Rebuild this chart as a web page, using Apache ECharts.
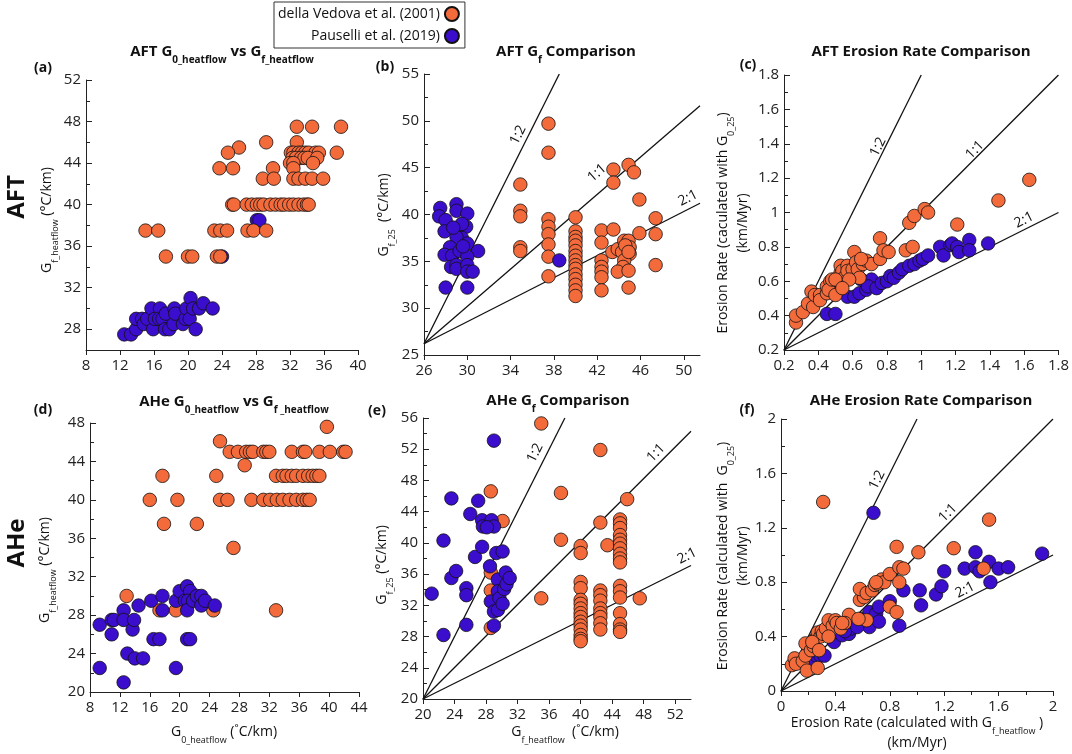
<!DOCTYPE html>
<html>
<head>
<meta charset="utf-8">
<script src="https://cdn.jsdelivr.net/npm/echarts@6/dist/echarts.min.js"></script>
<style>
  html, body { margin: 0; background: #fff; }
  #chart { width: 1072px; height: 754px; }
</style>
</head>
<body>
<div id="chart"></div>
<script>
const ORANGE = '#F36A3B'
const BLUE = '#3B0DCC'
const FONT = 'Open Sans'
const NAME_DV = 'della Vedova et al. (2001)'
const NAME_PA = 'Pauselli et al. (2019)'

// (a) AFT G0_heatflow vs Gf_heatflow
const aftHeatDV = [
  [32.8, 47.5], [34.6, 47.5], [38.0, 47.5], [29.2, 46], [32.8, 46], [26.0, 45.5],
  [24.7, 45], [32.1, 45], [32.4, 45], [33.0, 45], [33.4, 45], [33.8, 45], [34.2, 45], [35.0, 45], [35.4, 45], [37.5, 45],
  [32.3, 44.5], [32.7, 44.5], [33.3, 44.5], [33.7, 44.5], [34.1, 44.5], [35.2, 44.5],
  [32.0, 44], [32.4, 44], [34.7, 44],
  [23.7, 43.5], [25.3, 43.5], [30.0, 43.5], [32.4, 43.5],
  [28.8, 42.5], [30.1, 42.5], [32.4, 42.5], [33.0, 42.5], [33.8, 42.5], [34.6, 42.5], [35.9, 42.5],
  [25.2, 40], [25.4, 40], [26.9, 40], [27.5, 40], [28.1, 40], [28.5, 40], [28.9, 40], [29.7, 40], [30.3, 40],
  [30.9, 40], [31.3, 40], [31.9, 40], [32.4, 40], [33.0, 40], [33.6, 40], [34.0, 40], [34.2, 40],
  [15.0, 37.5], [16.5, 37.5], [23.1, 37.5], [23.8, 37.5], [24.6, 37.5], [27.0, 37.5], [27.7, 37.5], [29.2, 37.5],
  [17.4, 35], [20.0, 35], [20.5, 35], [23.4, 35], [23.8, 35]
]
const aftHeatPa = [
  [24.0, 35.0], [28.1, 38.5], [28.4, 38.5],
  [12.5, 27.5], [13.3, 27.5], [13.9, 28.0], [13.9, 29.0], [14.6, 29.0], [14.8, 28.5], [15.2, 29.0], [15.9, 28.0],
  [15.7, 30.0], [16.1, 29.0], [16.7, 30.0], [16.6, 29.0], [17.0, 29.0], [17.4, 29.5], [17.3, 28.0], [17.8, 28.0],
  [18.3, 28.5], [18.4, 30.0], [18.5, 29.5], [19.4, 28.5], [19.7, 29.0], [19.8, 30.0], [20.2, 29.0], [20.3, 31.0],
  [20.6, 30.0], [20.9, 28.0], [21.3, 30.0], [21.8, 30.5], [22.9, 30.0]
]

// (b) AFT Gf comparison
const aftGfDV = [
  [34.9, 43.2], [34.9, 40.4], [34.9, 39.8], [34.9, 36.5], [34.9, 36.1],
  [37.5, 49.7], [37.5, 46.6], [37.5, 39.5], [37.5, 38.7], [37.5, 37.9], [37.5, 36.8], [37.5, 35.5], [37.5, 33.4],
  [40.0, 39.7], [40.0, 38.2], [40.0, 37.6], [40.0, 37.2], [40.0, 36.7], [40.0, 36.1], [40.0, 35.6], [40.0, 35.1],
  [40.0, 34.6], [40.0, 34.2], [40.0, 33.6], [40.0, 33.1], [40.0, 32.5], [40.0, 31.9], [40.0, 31.3],
  [42.4, 38.3], [42.4, 37.0], [42.4, 35.1], [42.4, 34.4], [42.4, 33.9], [42.4, 33.3], [42.4, 31.9],
  [43.5, 44.8], [43.5, 43.4], [43.5, 38.4], [44.9, 45.3], [45.4, 44.5],
  [43.4, 36.0], [43.9, 36.3], [44.3, 36.0], [44.5, 37.2], [44.9, 37.2], [45.0, 36.5], [45.0, 35.8], [44.5, 35.1],
  [44.4, 34.4], [43.9, 33.9], [44.9, 34.0], [44.9, 32.2], [44.6, 36.7], [44.9, 36.0],
  [45.9, 41.6], [45.9, 38.0], [47.4, 39.6], [47.4, 37.9], [47.4, 34.6]
]
const aftGfPa = [
  [27.5, 40.7], [27.4, 39.8], [28.0, 39.4], [27.9, 38.2], [29.0, 41.1], [29.0, 40.4], [30.0, 40.1], [29.0, 38.5],
  [29.9, 38.7], [29.5, 37.5], [29.0, 37.6], [30.0, 36.9], [31.0, 36.1], [28.4, 36.5], [27.9, 35.7], [28.6, 35.6],
  [29.3, 36.1], [30.0, 35.5], [28.5, 34.4], [29.0, 34.6], [29.0, 34.2], [30.0, 34.6], [30.0, 33.9], [30.5, 33.9],
  [28.0, 32.2], [30.0, 32.2], [29.5, 39.0], [28.7, 38.6], [29.6, 36.6], [38.5, 35.1]
]

// (c) AFT erosion rate comparison
const aftErDV = [
  [0.27, 0.36], [0.27, 0.40], [0.31, 0.42], [0.34, 0.47], [0.37, 0.45], [0.36, 0.54], [0.38, 0.52], [0.41, 0.52],
  [0.41, 0.49], [0.45, 0.53], [0.45, 0.57], [0.47, 0.60], [0.46, 0.55], [0.48, 0.61], [0.50, 0.52], [0.52, 0.62],
  [0.53, 0.65], [0.53, 0.69], [0.54, 0.66], [0.55, 0.62], [0.57, 0.69], [0.57, 0.66], [0.60, 0.67], [0.61, 0.77],
  [0.62, 0.71], [0.63, 0.67], [0.64, 0.62], [0.66, 0.70], [0.68, 0.72], [0.71, 0.70], [0.76, 0.85], [0.76, 0.73],
  [0.78, 0.78], [0.81, 0.77], [0.91, 0.78], [0.95, 0.80], [0.93, 0.94], [0.96, 0.98], [1.02, 1.02], [1.04, 1.00],
  [1.21, 0.93], [1.45, 1.07], [1.63, 1.19], [0.50, 0.61], [0.58, 0.61], [0.54, 0.56], [0.65, 0.73]
]
const aftErPa = [
  [0.45, 0.41], [0.50, 0.41], [0.52, 0.57], [0.57, 0.51], [0.61, 0.51], [0.64, 0.53], [0.68, 0.55], [0.65, 0.61],
  [0.71, 0.61], [0.69, 0.57], [0.74, 0.56], [0.77, 0.59], [0.80, 0.60], [0.82, 0.63], [0.84, 0.62], [0.87, 0.65],
  [0.89, 0.67], [0.93, 0.69], [0.96, 0.70], [0.99, 0.72], [1.01, 0.73], [1.04, 0.75], [1.11, 0.80], [1.13, 0.75],
  [1.17, 0.81], [1.18, 0.82], [1.21, 0.80], [1.22, 0.77], [1.28, 0.84], [1.28, 0.78], [1.39, 0.82]
]

// (d) AHe G0_heatflow vs Gf_heatflow
const aheHeatDV = [
  [12.9, 30.0], [17.3, 28.5], [19.5, 28.5], [24.5, 28.5], [32.9, 28.5], [27.2, 35.0],
  [16.0, 40], [19.7, 40], [17.9, 37.5], [22.3, 37.5], [17.7, 42.5], [24.9, 42.5], [25.4, 46.1], [28.7, 43.6], [39.7, 47.6],
  [26.7, 45], [27.8, 45], [28.9, 45], [29.4, 45], [29.8, 45], [31.2, 45], [31.6, 45], [32.0, 45], [35.0, 45],
  [36.5, 45], [36.8, 45], [38.7, 45], [40.1, 45], [41.9, 45], [42.2, 45],
  [32.9, 42.5], [33.8, 42.5], [34.3, 42.5], [35.0, 42.5], [35.6, 42.5], [36.5, 42.5], [37.2, 42.5], [37.8, 42.5], [38.3, 42.5], [38.7, 42.5],
  [25.4, 40], [26.4, 40], [29.6, 40], [31.2, 40], [32.1, 40], [33.0, 40], [33.8, 40], [34.7, 40], [35.6, 40],
  [36.5, 40], [37.0, 40], [37.4, 40]
]
const aheHeatPa = [
  [9.3, 27.0], [9.3, 22.5], [10.9, 26.0], [10.9, 27.5], [11.2, 27.5], [12.5, 28.5], [12.5, 27.5], [12.5, 21.0],
  [13.0, 24.0], [13.7, 26.5], [13.9, 27.5], [14.0, 23.5], [14.5, 29.0], [15.1, 23.5], [16.2, 29.5], [16.5, 25.5],
  [17.3, 25.5], [17.7, 30.0], [17.7, 28.5], [19.5, 22.5], [19.5, 29.5], [20.0, 30.5], [21.0, 31.0], [20.7, 29.5],
  [21.4, 30.5], [21.1, 29.5], [21.0, 28.5], [21.0, 25.5], [21.4, 25.5], [21.8, 29.5], [22.3, 30.0], [22.9, 30.0],
  [22.9, 29.0], [23.4, 29.5], [24.7, 29.0]
]

// (e) AHe Gf comparison
const aheGfDV = [
  [35.0, 55.3], [35.0, 32.9], [28.6, 46.6], [30.1, 42.8], [28.6, 36.2], [28.6, 33.9], [28.6, 29.1],
  [37.5, 46.4], [37.5, 40.4], [42.5, 51.9], [42.5, 42.6], [45.9, 45.6], [43.4, 39.7], [47.5, 32.9],
  [40.0, 39.6], [40.0, 38.7], [40.0, 35.0], [40.0, 34.2], [40.0, 32.7], [40.0, 32.2], [40.0, 31.6], [40.0, 31.0],
  [40.0, 30.5], [40.0, 29.9], [40.0, 29.4], [40.0, 28.9], [40.0, 28.2], [40.0, 27.7], [40.0, 27.4],
  [42.5, 33.9], [42.5, 33.3], [42.5, 32.6], [42.5, 31.6], [42.5, 31.0], [42.5, 30.5], [42.5, 29.7], [42.5, 28.9],
  [45.0, 43.0], [45.0, 42.5], [45.0, 41.9], [45.0, 41.0], [45.0, 40.4], [45.0, 39.9], [45.0, 39.3], [45.0, 38.6],
  [45.0, 38.0], [45.0, 37.5], [45.0, 34.5], [45.0, 33.8], [45.0, 33.0], [45.0, 31.0], [45.0, 29.6], [45.0, 28.9], [45.0, 28.6]
]
const aheGfPa = [
  [21.1, 33.5], [22.6, 28.2], [22.6, 40.3], [23.6, 45.7], [23.6, 35.5], [24.2, 36.4], [25.5, 34.2], [25.5, 33.3],
  [25.5, 29.5], [26.0, 43.7], [26.6, 38.2], [27.0, 45.4], [27.5, 39.5], [27.5, 42.9], [27.6, 42.1], [28.5, 37.0],
  [28.7, 42.9], [29.0, 53.1], [29.0, 42.1], [28.6, 32.5], [29.0, 31.2], [29.0, 29.4], [29.3, 38.7], [30.1, 38.9],
  [29.5, 35.3], [29.5, 33.8], [29.7, 32.9], [29.5, 31.4], [30.1, 32.2], [30.3, 34.1], [30.5, 36.2], [30.6, 34.7],
  [31.0, 35.5], [28.1, 42.0]
]

// (f) AHe erosion rate comparison
const aheErDV = [
  [0.08, 0.19], [0.10, 0.24], [0.11, 0.20], [0.16, 0.22], [0.18, 0.26], [0.19, 0.15], [0.18, 0.35], [0.22, 0.30],
  [0.24, 0.33], [0.25, 0.38], [0.27, 0.17], [0.27, 0.43], [0.29, 0.40], [0.30, 0.44], [0.31, 0.42], [0.33, 0.46],
  [0.35, 0.52], [0.38, 0.48], [0.40, 0.52], [0.41, 0.50], [0.44, 0.46], [0.50, 0.56], [0.47, 0.50], [0.58, 0.67],
  [0.61, 0.69], [0.58, 0.75], [0.63, 0.72], [0.67, 0.74], [0.69, 0.78], [0.71, 0.79], [0.74, 0.82], [0.76, 0.80],
  [0.80, 0.86], [0.87, 0.91], [0.90, 0.90], [0.87, 0.80], [0.80, 0.62], [0.85, 0.58], [0.85, 1.06], [1.01, 1.02],
  [1.27, 1.05], [1.53, 1.26], [0.31, 1.39], [1.49, 0.90], [0.63, 0.52], [0.57, 0.53], [0.70, 0.80], [0.23, 0.36],
  [0.35, 0.40], [0.28, 0.30], [0.45, 0.50]
]
const aheErPa = [
  [0.23, 0.20], [0.26, 0.26], [0.29, 0.26], [0.32, 0.26], [0.39, 0.36], [0.45, 0.41], [0.50, 0.42], [0.52, 0.46],
  [0.55, 0.49], [0.59, 0.53], [0.65, 0.47], [0.65, 0.58], [0.70, 0.57], [0.72, 0.62], [0.72, 0.51], [0.80, 0.66],
  [0.87, 0.48], [0.90, 0.74], [1.02, 0.74], [1.03, 0.63], [1.14, 0.71], [1.18, 0.77], [1.20, 0.88], [1.35, 0.90],
  [1.43, 1.02], [1.43, 0.91], [1.46, 0.88], [1.53, 0.95], [1.54, 0.80], [1.60, 0.90], [1.67, 0.91], [1.92, 1.01],
  [0.68, 1.31], [0.47, 0.44], [0.56, 0.47]
]

// reference lines (start, end)
const aftGfLine12 = [[26, 26.2], [38.5, 55]]
const aftGfLine11 = [[26, 26.2], [51.5, 51.6]]
const aftGfLine21 = [[26, 26.2], [51.5, 41.2]]
const aftErLine12 = [[0.2, 0.2], [1.0, 1.8]]
const aftErLine11 = [[0.2, 0.2], [1.8, 1.8]]
const aftErLine21 = [[0.2, 0.2], [1.8, 1.0]]
const aheGfLine12 = [[20, 20], [38, 56]]
const aheGfLine11 = [[20, 20], [54, 54.3]]
const aheGfLine21 = [[20, 20], [54, 37.1]]
const aheErLine12 = [[0, 0], [1, 2]]
const aheErLine11 = [[0, 0], [2, 2]]
const aheErLine21 = [[0, 0], [2, 1]]

// tick values
const aTicksX = [8, 12, 16, 20, 24, 28, 32, 36, 40]
const aTicksY = [28, 32, 36, 40, 44, 48, 52]
const aMinorY = [26, 30, 34, 38, 42, 46, 50]
const bTicksX = [26, 30, 34, 38, 42, 46, 50]
const bTicksY = [25, 30, 35, 40, 45, 50, 55]
const bMinorY = [27.5, 32.5, 37.5, 42.5, 47.5, 52.5]
const cTicks = [0.2, 0.4, 0.6, 0.8, 1, 1.2, 1.4, 1.6, 1.8]
const cMinorY = [0.3, 0.5, 0.7, 0.9, 1.1, 1.3, 1.5, 1.7]
const dTicksX = [8, 12, 16, 20, 24, 28, 32, 36, 40, 44]
const dTicksY = [20, 24, 28, 32, 36, 40, 44, 48]
const dMinorY = [22, 26, 30, 34, 38, 42, 46]
const eTicksX = [20, 24, 28, 32, 36, 40, 44, 48, 52]
const eTicksY = [20, 24, 28, 32, 36, 40, 44, 48, 52, 56]
const eMinorY = [22, 26, 30, 34, 38, 42, 46, 50, 54]
const fTicks = [0, 0.4, 0.8, 1.2, 1.6, 2]
const fMinor = [0.2, 0.6, 1.0, 1.4, 1.8]

const panels = [
  { box: [86, 80, 272, 270], x: [8, 40], y: [26, 52], xt: aTicksX, yt: aTicksY, xm: [], ym: aMinorY,
    dv: aftHeatDV, pa: aftHeatPa, lines: [], blueTop: false },
  { box: [424, 74, 276, 281], x: [26, 51.5], y: [25, 55], xt: bTicksX, yt: bTicksY, xm: [], ym: bMinorY,
    dv: aftGfDV, pa: aftGfPa, lines: [aftGfLine12, aftGfLine11, aftGfLine21], blueTop: true },
  { box: [784, 75, 275, 275], x: [0.2, 1.8], y: [0.2, 1.8], xt: cTicks, yt: cTicks, xm: [], ym: cMinorY,
    dv: aftErDV, pa: aftErPa, lines: [aftErLine12, aftErLine11, aftErLine21], blueTop: false },
  { box: [90, 423, 269, 269], x: [8, 44], y: [20, 48], xt: dTicksX, yt: dTicksY, xm: [], ym: dMinorY,
    dv: aheHeatDV, pa: aheHeatPa, lines: [], blueTop: true },
  { box: [423, 418, 268, 281], x: [20, 54], y: [20, 56], xt: eTicksX, yt: eTicksY, xm: [], ym: eMinorY,
    dv: aheGfDV, pa: aheGfPa, lines: [aheGfLine12, aheGfLine11, aheGfLine21], blueTop: true },
  { box: [781, 419, 272, 272], x: [0, 2], y: [0, 2], xt: fTicks, yt: fTicks, xm: fMinor, ym: fMinor,
    dv: aheErDV, pa: aheErPa, lines: [aheErLine12, aheErLine11, aheErLine21], blueTop: false }
]

const AXIS = '#222'
const grid = [], xAxis = [], yAxis = [], series = []
panels.forEach((p, i) => {
  grid.push({ left: p.box[0], top: p.box[1], width: p.box[2], height: p.box[3] })
  const labelStyle = { fontFamily: FONT, fontSize: 15, color: '#222' }
  xAxis.push({
    gridIndex: i, type: 'value', position: 'bottom', min: p.x[0], max: p.x[1],
    axisLine: { show: true, onZero: false, lineStyle: { color: AXIS, width: 1 } },
    axisTick: { show: true, inside: false, length: 5, customValues: p.xt, lineStyle: { color: AXIS } },
    axisLabel: { ...labelStyle, margin: 8, customValues: p.xt },
    splitLine: { show: false }
  })
  yAxis.push({
    gridIndex: i, type: 'value', position: 'left', min: p.y[0], max: p.y[1],
    axisLine: { show: true, onZero: false, lineStyle: { color: AXIS, width: 1 } },
    axisTick: { show: true, inside: true, length: 6, customValues: p.yt, lineStyle: { color: AXIS } },
    axisLabel: { ...labelStyle, margin: 5, customValues: p.yt },
    splitLine: { show: false }
  })
})
// overlay axes that only draw the minor ticks
panels.forEach((p, i) => {
  xAxis.push({
    gridIndex: i, type: 'value', position: 'bottom', min: p.x[0], max: p.x[1], show: p.xm.length > 0,
    axisLine: { show: false, onZero: false }, axisLabel: { show: false }, splitLine: { show: false },
    axisTick: { show: true, inside: false, length: 4, customValues: p.xm, lineStyle: { color: AXIS } }
  })
  yAxis.push({
    gridIndex: i, type: 'value', position: 'left', min: p.y[0], max: p.y[1], show: p.ym.length > 0,
    axisLine: { show: false, onZero: false }, axisLabel: { show: false }, splitLine: { show: false },
    axisTick: { show: true, inside: true, length: 4, customValues: p.ym, lineStyle: { color: AXIS } }
  })
})

panels.forEach((p, i) => {
  p.lines.forEach(l => {
    series.push({
      type: 'line', xAxisIndex: i, yAxisIndex: i, data: l, symbol: 'none', silent: true, z: 1,
      lineStyle: { color: '#111', width: 1.3 }
    })
  })
  const dv = {
    name: NAME_DV, type: 'scatter', xAxisIndex: i, yAxisIndex: i, data: p.dv, symbolSize: 13.5,
    itemStyle: { color: ORANGE, borderColor: '#111', borderWidth: 0.8, opacity: 1 }, z: 2
  }
  const pa = {
    name: NAME_PA, type: 'scatter', xAxisIndex: i, yAxisIndex: i, data: p.pa, symbolSize: 13.5,
    itemStyle: { color: BLUE, borderColor: '#111', borderWidth: 0.8, opacity: 1 }, z: 2
  }
  if (p.blueTop) series.push(dv, pa)
  else series.push(pa, dv)
})

// rich text with subscripts
const rich = (size, sub, weight) => ({
  n: { fontFamily: FONT, fontSize: size, fontWeight: weight, lineHeight: size + 6, verticalAlign: 'top', fill: '#111' },
  s: { fontFamily: FONT, fontSize: sub, fontWeight: weight, lineHeight: sub, verticalAlign: 'top', fill: '#111',
       padding: [Math.round((size + 6) / 2 + 0.6 * size - 0.85 * sub), 0, 0, 0] }
})
const txt = (x, y, text, opt = {}) => ({
  type: 'text', x, y, rotation: (opt.rot || 0) * Math.PI / 180, silent: true,
  style: {
    text, rich: opt.rich, align: 'center', verticalAlign: 'middle', fill: '#111',
    fontFamily: FONT, fontSize: opt.size || 14, fontWeight: opt.weight || 'normal'
  }
})

const T = rich(15, 10, 'bold')
const L = rich(14, 9, 'normal')
const graphic = [
  txt(17, 197, 'AFT', { size: 24, weight: 'bold', rot: 90 }),
  txt(17, 543, 'AHe', { size: 24, weight: 'bold', rot: 90 }),
  txt(43, 68, '(a)', { size: 14, weight: 'bold' }),
  txt(385, 67, '(b)', { size: 14, weight: 'bold' }),
  txt(748, 65, '(c)', { size: 14, weight: 'bold' }),
  txt(43, 410, '(d)', { size: 14, weight: 'bold' }),
  txt(377, 411, '(e)', { size: 14, weight: 'bold' }),
  txt(747, 410, '(f)', { size: 14, weight: 'bold' }),

  txt(222, 55, '{n|AFT G}{s|0_heatflow}{n| vs G}{s|f_heatflow}', { rich: T }),
  txt(566, 55, '{n|AFT G}{s|f}{n| Comparison}', { rich: T }),
  txt(921, 55, '{n|AFT Erosion Rate Comparison}', { rich: T }),
  txt(234, 405, '{n|AHe G}{s|0_heatflow}{n| vs G}{s|f _heatflow}', { rich: T }),
  txt(558, 404, '{n|AHe G}{s|f}{n| Comparison}', { rich: T }),
  txt(921, 404, '{n|AHe Erosion Rate Comparison}', { rich: T }),

  txt(50, 220, '{n|G}{s|f_heatflow}{n| (°C/km)}', { rich: L, rot: 90 }),
  txt(387, 215, '{n|G}{s|f_25}{n|  (°C/km)}', { rich: L, rot: 90 }),
  txt(736, 223, '{n|Erosion Rate (caculated with G}{s|0_25}{n|)}\n{n|(km/Myr)}', { rich: L, rot: 90 }),
  txt(48, 570, '{n|G}{s|f_heatflow}{n| (°C/km)}', { rich: L, rot: 90 }),
  txt(385, 565, '{n|G}{s|f_25}{n| (°C/km)}', { rich: L, rot: 90 }),
  txt(736, 556, '{n|Erosion Rate (calculated with  G}{s|0_25}{n|)}\n{n|(km/Myr)}', { rich: L, rot: 90 }),
  txt(224, 735, '{n|G}{s|0_heatflow}{n| (˚C/km)}', { rich: L }),
  txt(565, 735, '{n|G}{s|f_heatflow}{n|  (˚C/km)}', { rich: L }),
  txt(917, 736, '{n|Erosion Rate (calculated with G}{s|f_heatflow}{n| )}\n{n|(km/Myr)}', { rich: L }),

  txt(518, 135, '1:2', { rot: 63.4 }), txt(597, 173, '1:1', { rot: 40.7 }), txt(688, 198, '2:1', { rot: 26.9 }),
  txt(878, 147, '1:2', { rot: 63.4 }), txt(975, 150, '1:1', { rot: 45 }), txt(1024, 220, '2:1', { rot: 26.6 }),
  txt(535, 453, '1:2', { rot: 63.4 }), txt(656, 453, '1:1', { rot: 45.2 }), txt(687, 556, '2:1', { rot: 26.6 }),
  txt(877, 480, '1:2', { rot: 63.4 }), txt(948, 513, '1:1', { rot: 45 }), txt(965, 590, '2:1', { rot: 26.6 })
]

const chart = echarts.init(document.getElementById('chart'))
chart.setOption({
  animation: false,
  backgroundColor: '#fff',
  legend: {
    data: [NAME_DV, NAME_PA], orient: 'vertical', left: 274, top: 2, align: 'right',
    itemWidth: 14, itemHeight: 14, itemGap: 6, padding: [4, 5, 4, 4],
    borderColor: '#333', borderWidth: 1, selectedMode: false,
    textStyle: { fontFamily: FONT, fontSize: 14, color: '#111' }
  },
  grid, xAxis, yAxis, series, graphic
})
</script>
</body>
</html>
